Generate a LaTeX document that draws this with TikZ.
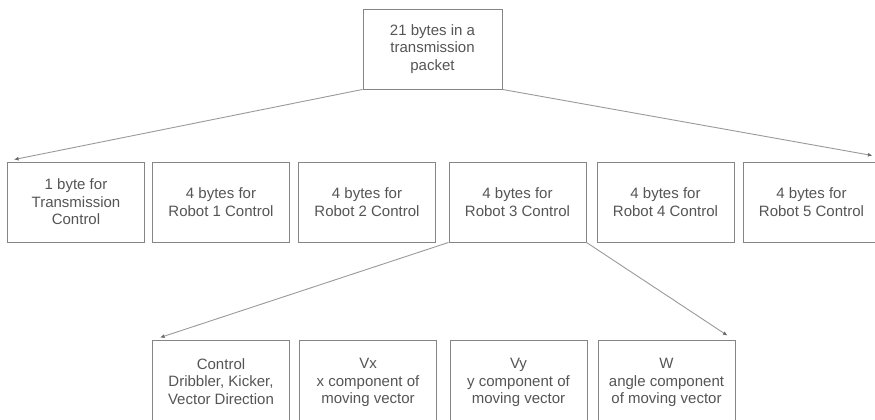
\documentclass[tikz,border=0pt]{standalone}
\usepackage{fontspec}
\setmainfont{Liberation Sans}
\usetikzlibrary{arrows.meta}
\definecolor{txt}{HTML}{555555}
\definecolor{frame}{HTML}{858585}
\definecolor{wire}{HTML}{9A9A9A}
\definecolor{tip}{HTML}{6A6A6A}
\begin{document}
\begin{tikzpicture}[x=1pt,y=-1pt,
  box/.style={draw=frame,line width=0.9pt,minimum width=137pt,minimum height=80pt,
    inner sep=2pt,align=center,text=txt,font=\fontsize{15}{17.5}\selectfont},
  lowbox/.style={box,minimum height=100pt},
  link/.style={draw=wire,line width=0.9pt,-{Latex[length=4.5pt,width=4pt,color=tip]}}]
\useasboundingbox[fill=white] (0,0) rectangle (875,420);
% packet
\node[box,minimum width=139pt] (top) at (432.5,49) {21 bytes in a\\transmission\\packet};
% second row: fields of the packet
\node[box] (tc) at (76,202) {1 byte for\\Transmission\\Control};
\node[box] (r1) at (221,202) {4 bytes for\\Robot 1 Control};
\node[box] (r2) at (367,202) {4 bytes for\\Robot 2 Control};
\node[box] (r3) at (517.5,202) {4 bytes for\\Robot 3 Control};
\node[box] (r4) at (665.5,202) {4 bytes for\\Robot 4 Control};
\node[box] (r5) at (811.5,202) {4 bytes for\\Robot 5 Control};
% third row: bytes of one robot field (running off the lower edge)
\node[lowbox] (ctl) at (221,390) {Control\\Dribbler, Kicker,\\Vector Direction\\\mbox{}};
\node[lowbox] (vx) at (368,390) {Vx\\x component of\\moving vector\\\mbox{}};
\node[lowbox] (vy) at (518.5,390) {Vy\\y component of\\moving vector\\\mbox{}};
\node[lowbox] (w) at (666.5,390) {W\\angle component\\of moving vector\\\mbox{}};
% connectors
\draw[link] (top.south west) -- ([shift={(7,-2)}]tc.north west);
\draw[link] (top.south east) -- ([shift={(-8,-6)}]r5.north east);
\draw[link] (r3.south west) -- ([shift={(8,-2)}]ctl.north west);
\draw[link] (r3.south east) -- ([shift={(-8,-4)}]w.north east);
\end{tikzpicture}
\end{document}
